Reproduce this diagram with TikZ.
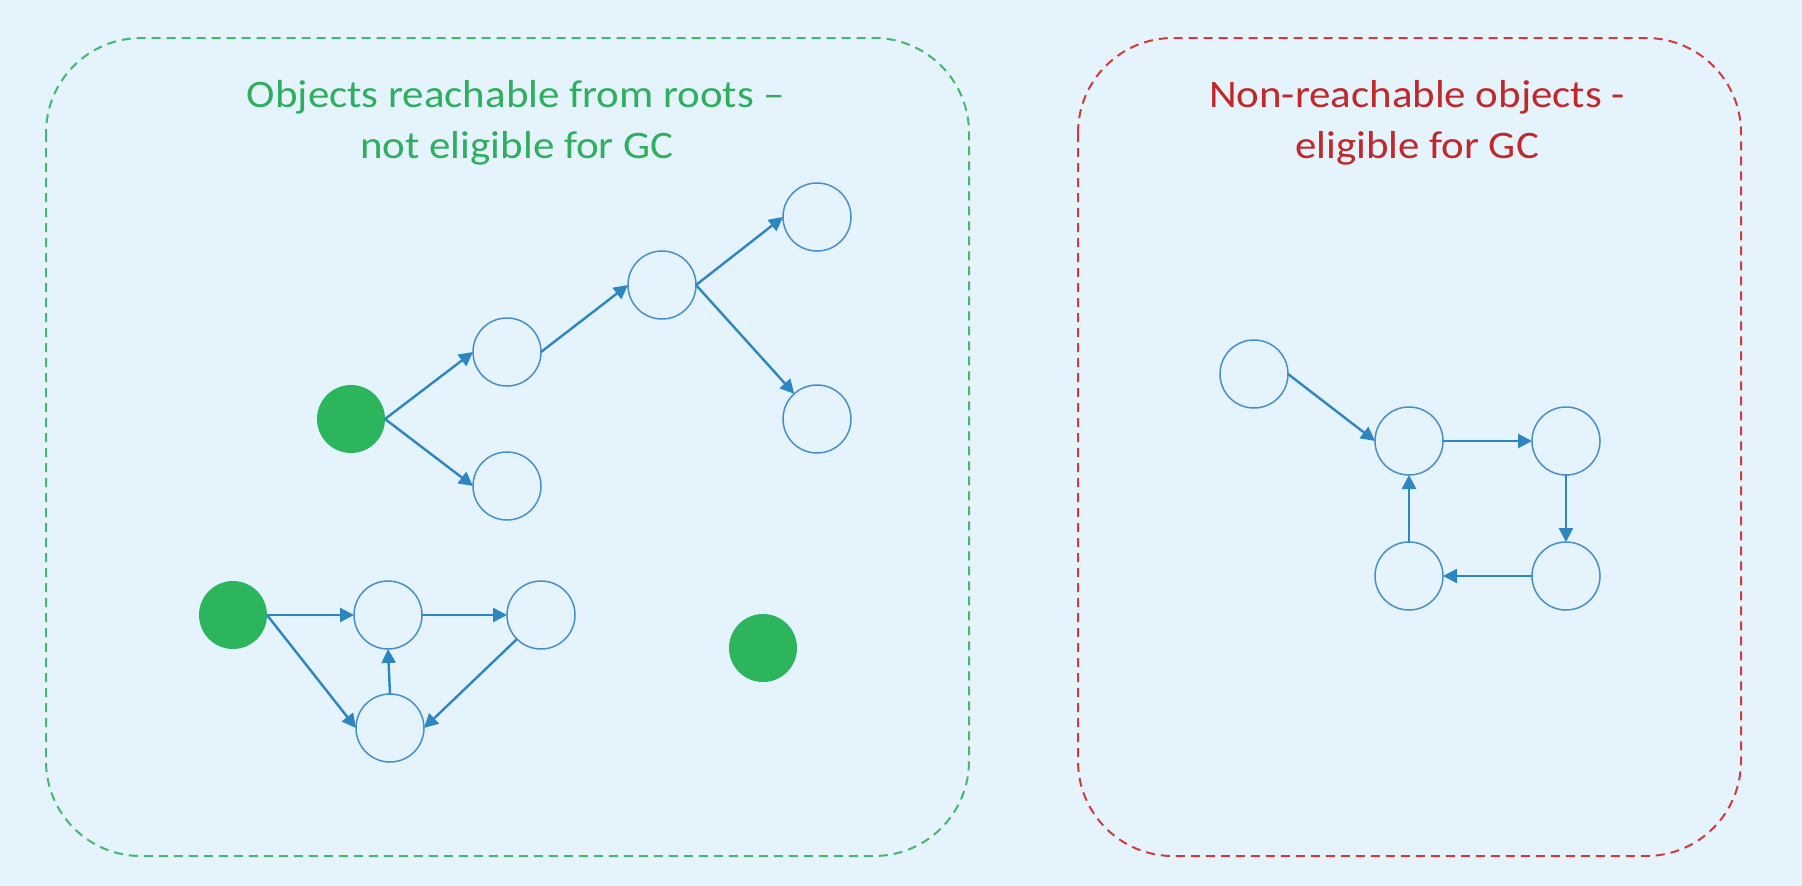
\documentclass[tikz,border=0pt]{standalone}
\usepackage{fontspec}
\setmainfont{Carlito}[FakeStretch=1.1]
\usetikzlibrary{arrows.meta}
\definecolor{bgblue}{HTML}{E4F3FC}
\definecolor{greenline}{HTML}{45B86E}
\definecolor{greentext}{HTML}{2EAE5E}
\definecolor{greenfill}{HTML}{2DB55D}
\definecolor{redline}{HTML}{D23B3B}
\definecolor{redtext}{HTML}{C0282B}
\definecolor{nodeline}{HTML}{4A90C8}
\definecolor{arrowblue}{HTML}{2E86C1}
\tikzset{
  obj/.style={circle, draw=nodeline, line width=1.5pt, minimum size=68pt, inner sep=0pt, outer sep=0pt},
  root/.style={circle, fill=greenfill, draw=none, minimum size=68pt, inner sep=0pt, outer sep=0pt},
  ref/.style={draw=arrowblue, line width=2.4pt, -{Triangle[length=14pt,width=14pt]}},
  region/.style={dashed, line width=2pt, dash pattern=on 9pt off 6pt, rounded corners=95pt},
  title/.style={anchor=base, inner sep=0pt, font=\fontsize{39}{52}\selectfont},
}
\begin{document}
\begin{tikzpicture}[x=1pt, y=-1pt]
\fill[bgblue] (0,0) rectangle (1802,886);
\useasboundingbox (0,0) rectangle (1802,886);
% regions
\draw[region, draw=greenline] (46,38) rectangle (969,856);
\draw[region, draw=redline] (1078,38) rectangle (1741,856);
% titles
\node[title, text=greentext] (t1a) at (516,107) {Objects reachable from roots –};
\node[title, text=greentext] (t1b) at (517,158) {not eligible for GC};
\node[title, text=redtext] (t2a) at (1417,107) {Non-reachable objects -};
\node[title, text=redtext] (t2b) at (1417,158) {eligible for GC};
% tree
\node[root] (A) at (351,419) {};
\node[obj] (n1) at (507,352) {};
\node[obj] (n2) at (507,486) {};
\node[obj] (n3) at (662,285) {};
\node[obj] (n4) at (817,217) {};
\node[obj] (n5) at (817,419) {};
\draw[ref] (A.east) -- (n1.west);
\draw[ref] (A.east) -- (n2.west);
\draw[ref] (n1.east) -- (n3.west);
\draw[ref] (n3.east) -- (n4.west);
\draw[ref] (n3.east) -- (n5);
% triangle group
\node[root] (B) at (233,615) {};
\node[obj] (m1) at (388,615) {};
\node[obj] (m2) at (541,615) {};
\node[obj] (m3) at (390,728) {};
\draw[ref] (B.east) -- (m1.west);
\draw[ref] (m1.east) -- (m2.west);
\draw[ref] (B.east) -- (m3.west);
\draw[ref] (m3.north) -- (m1.south);
\draw[ref] (m2.south west) -- (m3.east);
% lone root
\node[root] (C) at (763,648) {};
% unreachable cycle
\node[obj] (r0) at (1254,374) {};
\node[obj] (r1) at (1409,441) {};
\node[obj] (r2) at (1566,441) {};
\node[obj] (r3) at (1566,576) {};
\node[obj] (r4) at (1409,576) {};
\draw[ref] (r0.east) -- (r1.west);
\draw[ref] (r1.east) -- (r2.west);
\draw[ref] (r2.south) -- (r3.north);
\draw[ref] (r3.west) -- (r4.east);
\draw[ref] (r4.north) -- (r1.south);
\end{tikzpicture}
\end{document}
